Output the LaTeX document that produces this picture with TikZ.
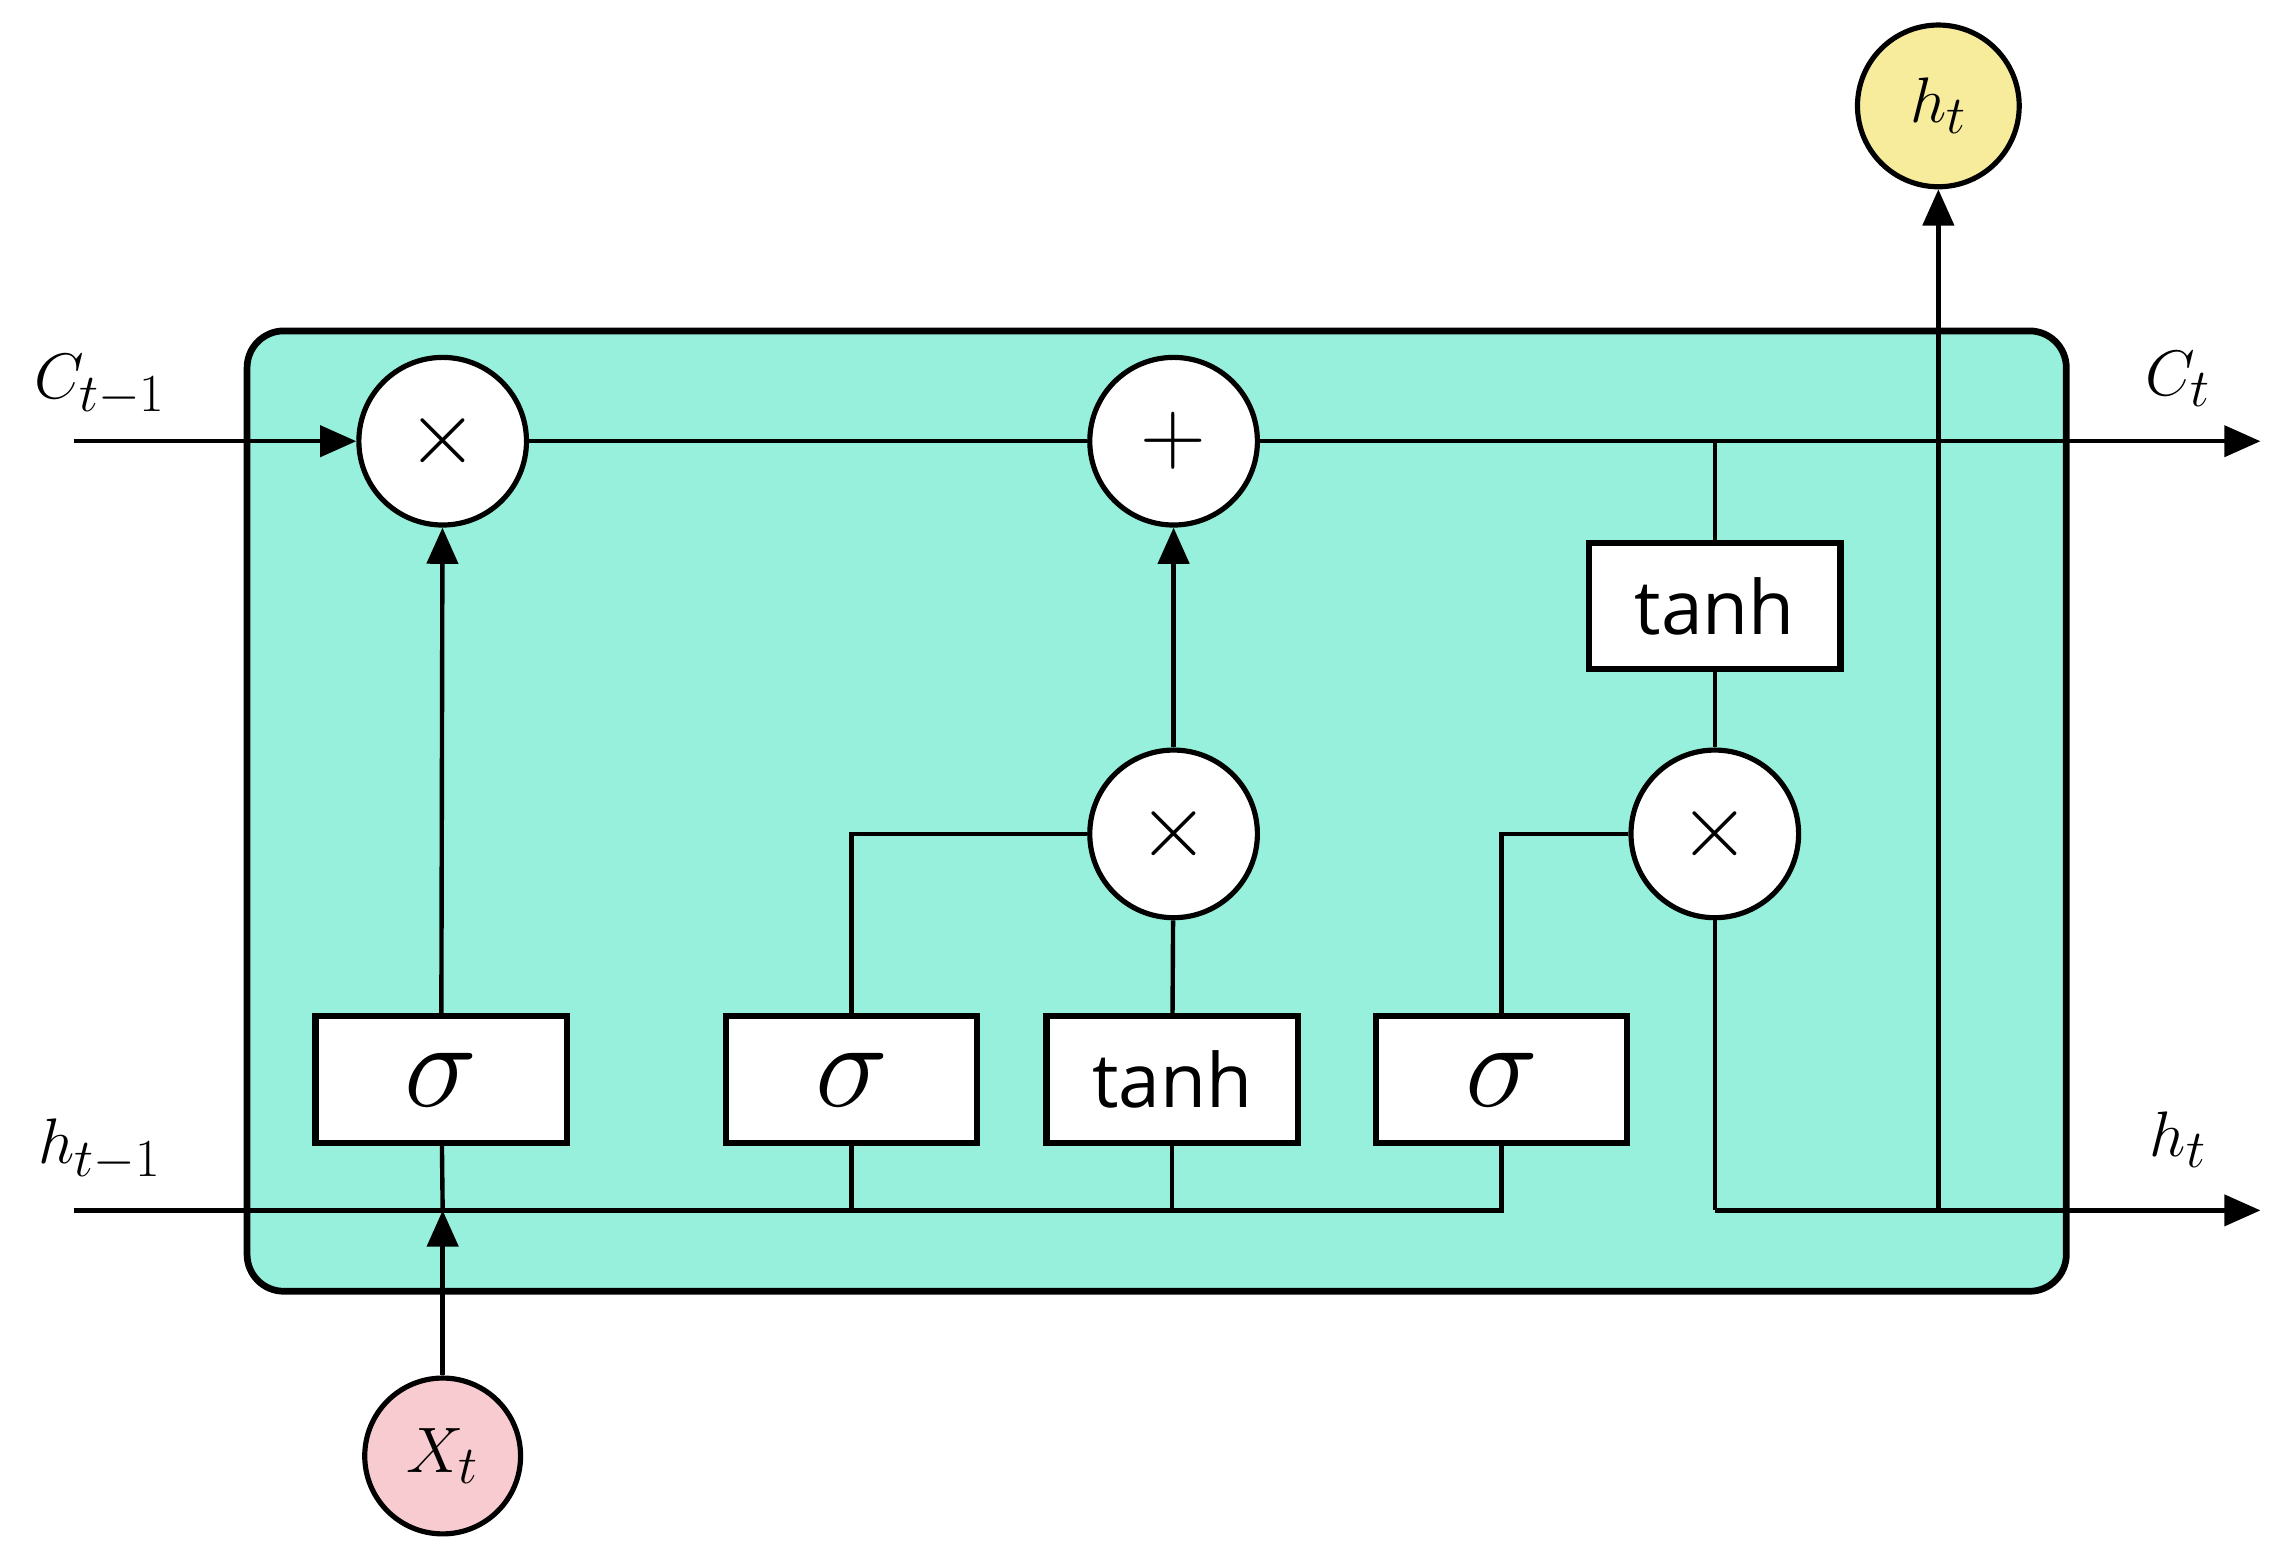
\documentclass[tikz,border=0pt]{standalone}
\usepackage{fontspec}
\newfontfamily\tanhfont{Open Sans}
\usetikzlibrary{arrows.meta}
\definecolor{cellc}{HTML}{96F0DC}
\definecolor{htc}{HTML}{F7EB9C}
\definecolor{xtc}{HTML}{F8CBD0}
\newcommand{\bigsig}{\scalebox{2.3}{$\sigma$}}
\newcommand{\bigop}[1]{\scalebox{1.7}{$#1$}}
\begin{document}
\begin{tikzpicture}[x=0.02cm,y=-0.02cm,
  ln/.style={line width=1.7pt},
  arr/.style={ln,-{Triangle[length=14pt,width=12pt]}},
  op/.style={circle,draw,line width=2pt,fill=white,minimum size=2.28cm,inner sep=0pt,font=\fontsize{20}{20}\selectfont},
  gate/.style={draw,line width=2.4pt,fill=white,minimum width=3.42cm,minimum height=1.72cm,inner sep=0pt},
  sig/.style={gate,font=\fontsize{20}{20}\selectfont},
  th/.style={gate,font=\tanhfont\fontsize{29}{29}\selectfont},
  lab/.style={font=\fontsize{28}{28}\selectfont}]
\useasboundingbox (0,0) rectangle (1551,1052);
\draw[line width=2.6pt,fill=cellc,rounded corners=0.5cm] (168,225) rectangle (1405,878);
\node[op] (m1) at (301,300) {\bigop{\times}};
\node[op] (pl) at (798,300) {\bigop{+}};
\node[op] (m2) at (798,567) {\bigop{\times}};
\node[op] (m3) at (1166,567) {\bigop{\times}};
\node[sig] (s1) at (300,734) {\bigsig};
\node[sig] (s2) at (579,734) {\bigsig};
\node[th] (t1) at (797,734) {tanh};
\node[sig] (s3) at (1021,734) {\bigsig};
\node[th] (t2) at (1166,412) {tanh};
\node[circle,draw,line width=2pt,fill=htc,minimum size=2.2cm,inner sep=0pt,font=\fontsize{28}{28}\selectfont] (ht) at (1318,72) {$h_t$};
\node[circle,draw,line width=2pt,fill=xtc,minimum size=2.12cm,inner sep=0pt,font=\fontsize{28}{28}\selectfont] (xt) at (301,990) {$X_t$};
\coordinate (cin) at (50,300);
\coordinate (cout) at (1537,300);
\coordinate (hin) at (50,823);
\coordinate (hout) at (1537,823);
\coordinate (hend) at (1021,823);
\coordinate (tj) at (1166,300);
\coordinate (hc) at (1166,823);
\coordinate (hj) at (1318,823);
\coordinate (xj) at (301,823);
\draw[arr] (cin) -- (m1);
\draw[ln] (m1) -- (pl);
\draw[arr] (pl) -- (cout);
\draw[ln] (tj) -- (t2);
\draw[ln] (t2) -- (m3);
\draw[ln] (m3) -- (hc);
\draw[arr] (hc) -- (hout);
\draw[arr] (hj) -- (ht);
\draw[ln] (hin) -- (hend) -- (s3);
\draw[ln] (s2.south) -- (s2.south|-hin);
\draw[ln] (t1.south) -- (t1.south|-hin);
\draw[ln] (s1) -- (xj);
\draw[arr] (xt) -- (xj);
\draw[arr] (s1) -- (m1);
\draw[ln] (s2) |- (m2);
\draw[ln] (t1) -- (m2);
\draw[arr] (m2) -- (pl);
\draw[ln] (s3) |- (m3);
\node[lab] (l1) at (68,262) {$C_{t-1}$};
\node[lab] (l2) at (68,782) {$h_{t-1}$};
\node[lab] (l3) at (1481,258) {$C_t$};
\node[lab] (l4) at (1481,775) {$h_t$};
\end{tikzpicture}
\end{document}
